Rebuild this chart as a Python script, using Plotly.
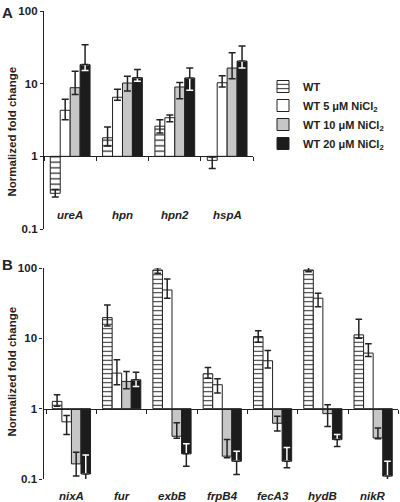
import plotly.graph_objects as go

# ---------------- data ----------------
series_names = ['WT', 'WT 5 μM NiCl<sub>2</sub>', 'WT 10 μM NiCl<sub>2</sub>', 'WT 20 μM NiCl<sub>2</sub>']

genes_A = ['ureA', 'hpn', 'hpn2', 'hspA']
A_wt = [0.31, 1.8, 2.6, 0.88]
A_wt_hi = [0.35, 2.53, 3.2, 0.98]
A_wt_lo = [0.276, 1.39, 2.1, 0.68]
A_5 = [4.3, 6.5, 3.4, 10.3]
A_5_hi = [6.1, 8.4, 3.7, 12.9]
A_5_lo = [3.2, 5.9, 3.0, 9.0]
A_10 = [8.8, 10.2, 9.0, 16.4]
A_10_hi = [14.8, 12.6, 10.4, 26.7]
A_10_lo = [7.1, 7.9, 6.2, 11.7]
A_20 = [18.3, 12.1, 12.0, 20.5]
A_20_hi = [34.4, 15.7, 16.4, 32.9]
A_20_lo = [15.2, 10.8, 8.1, 16.4]

genes_B = ['nixA', 'fur', 'exbB', 'frpB4', 'fecA3', 'hydB', 'nikR']
B_wt = [1.27, 19.7, 93.7, 3.14, 10.6, 93.7, 11.2]
B_wt_hi = [1.58, 29.9, 101, 3.85, 12.8, 104, 18.7]
B_wt_lo = [1.08, 15.0, 84, 2.7, 8.8, 88.7, 10.0]
B_5 = [0.65, 3.2, 48.7, 2.19, 4.8, 37.2, 6.17]
B_5_hi = [0.80, 4.95, 69.8, 2.66, 6.7, 43.8, 8.4]
B_5_lo = [0.43, 2.19, 37.2, 1.67, 3.78, 28.2, 5.5]
B_10 = [0.164, 2.44, 0.405, 0.211, 0.62, 0.85, 0.384]
B_10_hi = [0.24, 3.38, 0.63, 0.363, 0.78, 1.14, 0.53]
B_10_lo = [0.11, 1.92, 0.38, 0.2, 0.48, 0.56, 0.375]
B_20 = [0.118, 2.58, 0.228, 0.179, 0.179, 0.363, 0.11]
B_20_hi = [0.22, 3.3, 0.316, 0.248, 0.28, 0.43, 0.179]
B_20_lo = [0.096, 2.07, 0.152, 0.116, 0.144, 0.29, 0.091]

y_tickvals = [0.1, 1, 10, 100]
y_ticktext = ['0.1', '1', '10', '100']
y_title = 'Normalized fold change'

# ---------------- styling ----------------
W, H = 400, 502
DARK = '#222222'
GRAY = '#c6c6c6'
BLACK = '#1c1c1c'
FONT = 'Liberation Sans'


def fy(p):
    return 1 - p / H


def fx(p):
    return p / W


fig = go.Figure()


def add_panel(genes, vals, his, los, xa, ya, show_legend, hatch_size, cap):
    fills = ['white', 'white', GRAY, BLACK]
    for k in range(4):
        v, hi, lo = vals[k], his[k], los[k]
        size = [a - 1 for a in v]
        up = [h - a for h, a in zip(hi, v)]
        dn = [a - l for a, l in zip(v, lo)]
        common = dict(x=genes, base=1, xaxis=xa, yaxis=ya, offsetgroup=str(k),
                      hoverinfo='skip')
        marker = dict(color=fills[k], line=dict(color=DARK, width=1))
        if k == 0:
            marker['pattern'] = dict(shape='-', fgcolor=DARK, bgcolor='white',
                                     size=hatch_size, solidity=0.22, fillmode='replace')
        if k < 3:
            err = dict(type='data', symmetric=False, array=up, arrayminus=dn,
                       color=DARK, thickness=1.5, width=cap)
            fig.add_trace(go.Bar(y=size, name=series_names[k], marker=marker,
                                 error_y=err, showlegend=show_legend, **common))
        else:
            up_in = [u if a < 1 else 0 for u, a in zip(up, v)]
            dn_in = [d if a >= 1 else 0 for d, a in zip(dn, v)]
            up_out = [u if a >= 1 else 0 for u, a in zip(up, v)]
            dn_out = [d if a < 1 else 0 for d, a in zip(dn, v)]
            fig.add_trace(go.Bar(y=size, name=series_names[k], marker=marker,
                                 error_y=dict(type='data', symmetric=False, array=up_in,
                                              arrayminus=dn_in, color='white',
                                              thickness=1.5, width=cap),
                                 showlegend=show_legend, **common))
            fig.add_trace(go.Bar(y=size, name=series_names[k],
                                 marker=dict(color='rgba(0,0,0,0)', line=dict(width=0)),
                                 error_y=dict(type='data', symmetric=False, array=up_out,
                                              arrayminus=dn_out, color=DARK,
                                              thickness=1.5, width=cap),
                                 showlegend=False, **common))


add_panel(genes_A, [A_wt, A_5, A_10, A_20], [A_wt_hi, A_5_hi, A_10_hi, A_20_hi],
          [A_wt_lo, A_5_lo, A_10_lo, A_20_lo], 'x', 'y', True, 5.5, 3.5)
add_panel(genes_B, [B_wt, B_5, B_10, B_20], [B_wt_hi, B_5_hi, B_10_hi, B_20_hi],
          [B_wt_lo, B_5_lo, B_10_lo, B_20_lo], 'x2', 'y2', False, 4.5, 3.3)

yA = [fy(229), fy(11)]
yB = [fy(479), fy(268)]
posA = yA[0] + (yA[1] - yA[0]) / 3
posB = yB[0] + (yB[1] - yB[0]) / 3

tickfont = dict(family=FONT, size=11.5, color=DARK, weight='bold')

xcommon = dict(type='category', anchor='free', showline=True, linecolor=DARK, linewidth=1.3,
               ticks='outside', ticklen=4, tickwidth=1.3, tickcolor=DARK, tickson='boundaries',
               showticklabels=False, showgrid=False, zeroline=False, fixedrange=True)
ycommon = dict(type='log', range=[-1, 2], showline=True, linecolor=DARK, linewidth=1.3,
               ticks='outside', ticklen=3, tickwidth=1.3, tickcolor=DARK,
               tickvals=y_tickvals, ticktext=y_ticktext, tickfont=tickfont,
               showgrid=False, zeroline=False, fixedrange=True, automargin=False)

fig.update_layout(
    width=W, height=H,
    margin=dict(l=0, r=0, t=0, b=0, autoexpand=False),
    paper_bgcolor='white', plot_bgcolor='rgba(0,0,0,0)',
    barmode='group', bargap=0.24, bargroupgap=0,
    font=dict(family=FONT, color=DARK),
    xaxis=dict(domain=[fx(44), fx(253.3)], range=[-0.5, 3.5], position=posA, **xcommon),
    yaxis=dict(domain=yA, anchor='x', **ycommon),
    xaxis2=dict(domain=[fx(43.5), fx(398.3)], range=[-0.555, 6.5], position=posB, **xcommon),
    yaxis2=dict(domain=yB, anchor='x2', **ycommon),
    legend=dict(x=fx(263), y=fy(72), xanchor='left', yanchor='top',
                font=dict(family=FONT, size=11, color=DARK, weight='bold'),
                bgcolor='rgba(0,0,0,0)', traceorder='normal'),
    showlegend=True,
)

ann = []
lab_font = dict(family=FONT, size=11.5, color=DARK, weight='bold', style='italic')
for g in genes_A:
    ann.append(dict(x=g, y=fy(215), xref='x', yref='paper', text=g, showarrow=False,
                    font=lab_font, xanchor='center', yanchor='middle'))
for g in genes_B:
    ann.append(dict(x=g, y=fy(496), xref='x2', yref='paper', text=g, showarrow=False,
                    font=lab_font, xanchor='center', yanchor='middle'))
for txt, yc in [('A', 13), ('B', 264)]:
    ann.append(dict(x=fx(7), y=fy(yc), xref='paper', yref='paper', text=txt, showarrow=False,
                    font=dict(family=FONT, size=15, color=DARK, weight='bold'),
                    xanchor='center', yanchor='middle'))
for yc in [132, 372]:
    ann.append(dict(x=fx(11.5), y=fy(yc), xref='paper', yref='paper', text=y_title,
                    showarrow=False, textangle=-90,
                    font=dict(family=FONT, size=11.5, color=DARK, weight='bold'),
                    xanchor='center', yanchor='middle'))
fig.update_layout(annotations=ann)

fig.write_html('out.html', config={'displayModeBar': False},
               post_script="document.body.style.margin='0';document.body.style.padding='0';")
